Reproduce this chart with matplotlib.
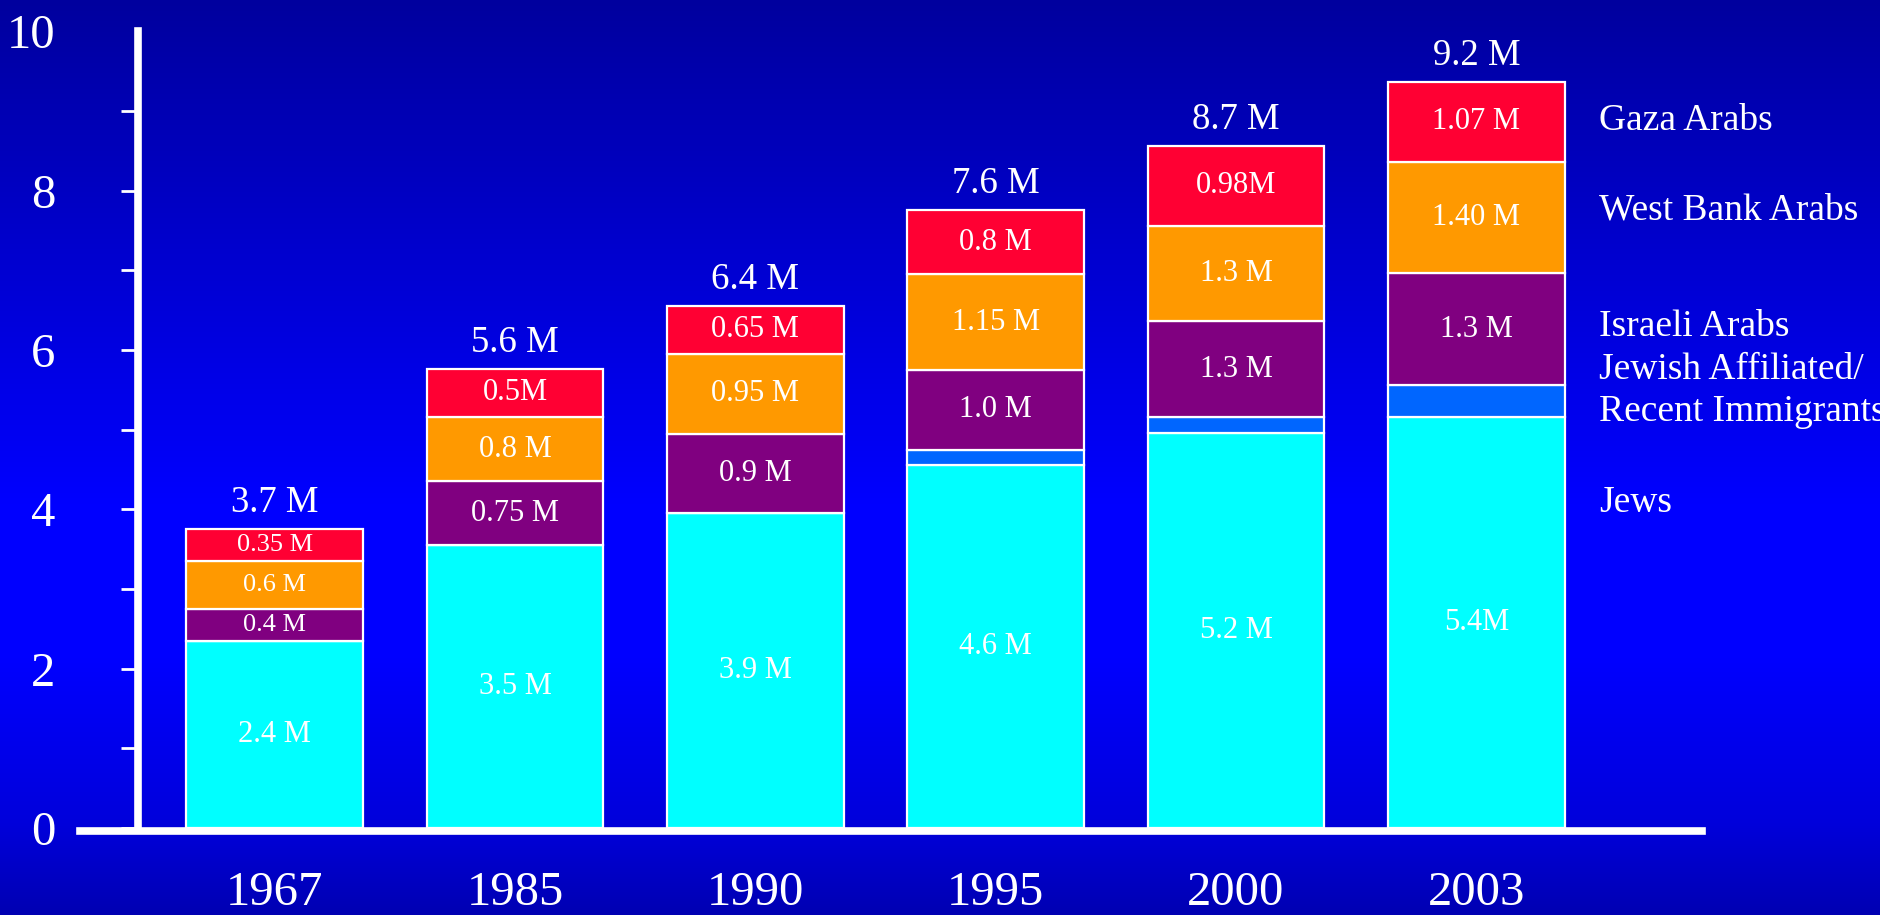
"""
Population stack: Jews / Israeli Arabs / West Bank Arabs / Gaza Arabs, 1967-2003.
"""
import numpy as np
import matplotlib
matplotlib.use('Agg')
import matplotlib.pyplot as plt

plt.rcParams['font.family'] = ['Liberation Serif', 'DejaVu Serif']

years = ['1967', '1985', '1990', '1995', '2000', '2003']

# bar heights (millions)
jews = [2.35, 3.55, 3.95, 4.55, 4.96, 5.16]
immigrants = [0.0, 0.0, 0.0, 0.2, 0.2, 0.4]
israeli_arabs = [0.4, 0.8, 1.0, 1.0, 1.2, 1.4]
west_bank = [0.6, 0.81, 1.0, 1.2, 1.2, 1.4]
gaza = [0.4, 0.6, 0.6, 0.8, 1.0, 1.0]

# printed labels
jews_lbl = ['2.4 M', '3.5 M', '3.9 M', '4.6 M', '5.2 M', '5.4M']
israeli_lbl = ['0.4 M', '0.75 M', '0.9 M', '1.0 M', '1.3 M', '1.3 M']
west_bank_lbl = ['0.6 M', '0.8 M', '0.95 M', '1.15 M', '1.3 M', '1.40 M']
gaza_lbl = ['0.35 M', '0.5M', '0.65 M', '0.8 M', '0.98M', '1.07 M']
total_lbl = ['3.7 M', '5.6 M', '6.4 M', '7.6 M', '8.7 M', '9.2 M']

legend_names = ['Gaza Arabs', 'West Bank Arabs', 'Israeli Arabs',
                'Jewish Affiliated/', 'Recent Immigrants', 'Jews']

series = [jews, immigrants, israeli_arabs, west_bank, gaza]
labels = [jews_lbl, None, israeli_lbl, west_bank_lbl, gaza_lbl]
colors = ['#00ffff', '#0066ff', '#800080', '#ff9900', '#ff0033']

fig = plt.figure(figsize=(18.81, 9.15), dpi=100)

# gradient background
bg = fig.add_axes([0, 0, 1, 1], zorder=0)
t = np.linspace(0, 1, 400)
blue = np.interp(t, [0, 0.55, 0.72, 0.9, 1.0], [0.62, 1.0, 1.0, 0.86, 0.70])
img = np.zeros((400, 1, 3))
img[:, 0, 2] = blue
bg.imshow(img, aspect='auto', extent=[0, 1, 0, 1])
bg.axis('off')

ax = fig.add_axes([0.0425, 0.095, 0.8625, 0.871], zorder=1)
ax.patch.set_alpha(0)

x = np.arange(len(years))
bottom = np.zeros(len(years))
for k, (vals, lbls, col) in enumerate(zip(series, labels, colors)):
    vals = np.array(vals)
    ax.bar(x, vals, width=0.735, bottom=bottom, color=col,
           edgecolor='white', linewidth=1.6, zorder=3)
    if lbls is not None:
        for i in range(len(x)):
            # the thin 1967 slices carry a smaller font
            fs = 19 if (i == 0 and k > 0) else 22
            ax.text(x[i], bottom[i] + vals[i] / 2, lbls[i], color='white',
                    ha='center', va='center', fontsize=fs, zorder=4)
    bottom = bottom + vals

for i in range(len(x)):
    ax.annotate(total_lbl[i], (x[i], bottom[i]), xytext=(0, 19),
                textcoords='offset points', ha='center', va='center',
                color='white', fontsize=26.5)

ax.set_xlim(-0.81, 5.94)
ax.set_ylim(0, 10)

for s in ['top', 'right']:
    ax.spines[s].set_visible(False)
ax.spines['left'].set_position(('data', -0.567))
ax.spines['left'].set_bounds(0, 10)
ax.spines['left'].set_color('white')
ax.spines['left'].set_linewidth(5.5)
ax.spines['bottom'].set_color('white')
ax.spines['bottom'].set_linewidth(5.5)
ax.spines['bottom'].set_position(('outward', 2))

ax.set_yticks(np.arange(0, 11, 1))
ax.set_yticklabels([str(v) if v % 2 == 0 else '' for v in range(11)])
ax.tick_params(axis='y', colors='white', length=12, width=2, pad=48,
               labelsize=35)
for lab in ax.get_yticklabels():
    lab.set_horizontalalignment('right')
ax.yaxis.get_major_ticks()[10].tick1line.set_visible(False)

ax.set_xticks(x)
ax.set_xticklabels(years)
ax.tick_params(axis='x', colors='white', length=0, pad=29, labelsize=35)

# side labels for the series
leg_y = [8.87, 7.75, 6.29, 5.75, 5.22, 4.08]
for name, yy in zip(legend_names, leg_y):
    ax.text(5.51, yy, name, color='white', fontsize=27, va='center',
            ha='left', clip_on=False)

fig.savefig('out.png', dpi=100)
